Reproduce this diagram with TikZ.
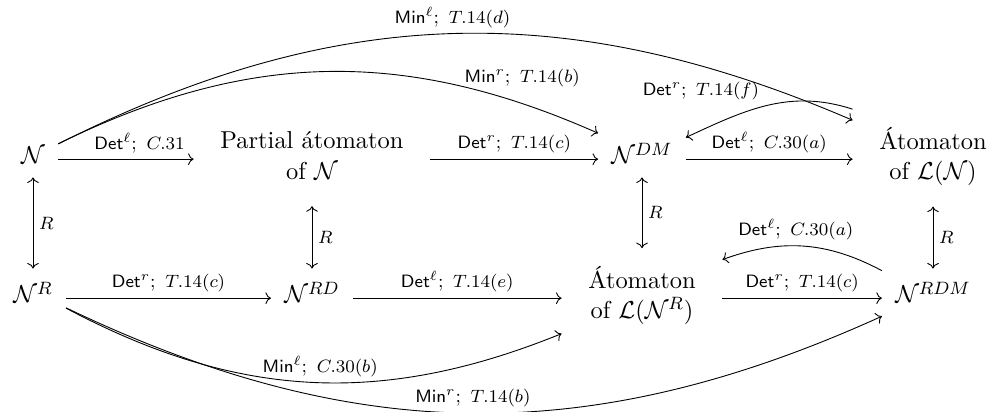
\documentclass[tikz,border=0pt]{standalone}
\usetikzlibrary{arrows.meta}
\begin{document}
\begin{tikzpicture}[x=0.4478pt,y=-0.4478pt,
  every node/.style={font=\fontsize{10.95}{13.6}\selectfont},
  obj/.style={anchor=base, inner xsep=5.8pt, inner ysep=5.8pt},
  two/.style={anchor=base, inner xsep=5.8pt, inner ysep=7.8pt},
  lab/.style={font=\fontsize{8.5}{10}\selectfont, inner sep=2.5pt},
  arr/.style={-{Computer Modern Rightarrow}, line width=0.4pt},
  dbl/.style={{Computer Modern Rightarrow}-{Computer Modern Rightarrow}, line width=0.4pt}]
\useasboundingbox (0,0) rectangle (989,412);
% row 1
\node[obj] (N) at (33,164) {$\mathcal{N}$};
\node[two] (P) at (312,164) {\begin{tabular}{c}Partial átomaton\\ of $\mathcal{N}$\end{tabular}};
\node[obj] (NDM) at (642,164) {$\mathcal{N}^{DM}$};
\node[two] (AN) at (933,164) {\begin{tabular}{c}Átomaton\\ of $\mathcal{L}(\mathcal{N})$\end{tabular}};
% row 2
\node[obj] (NR) at (33,303) {$\mathcal{N}^{R}$};
\node[obj] (NRD) at (312,303) {$\mathcal{N}^{RD}$};
\node[two] (AR) at (642,303) {\begin{tabular}{c}Átomaton\\ of $\mathcal{L}(\mathcal{N}^{R})$\end{tabular}};
\node[obj] (NRDM) at (933,303) {$\mathcal{N}^{RDM}$};
% horizontal arrows
\draw[arr] (N.mid east) -- node[lab, above, pos=0.6] {$\mathsf{Det}^{\ell}$;\,\ $C.31$} (P.mid west);
\draw[arr] (P.mid east) -- node[lab, above] {$\mathsf{Det}^{r}$;\,\ $T.14(c)$} (NDM.mid west);
\draw[arr] (NDM.mid east) -- node[lab, above] {$\mathsf{Det}^{\ell}$;\,\ $C.30(a)$} (AN.mid west);
\draw[arr] (NR.mid east) -- node[lab, above] {$\mathsf{Det}^{r}$;\,\ $T.14(c)$} (NRD.mid west);
\draw[arr] (NRD.mid east) -- node[lab, above] {$\mathsf{Det}^{\ell}$;\,\ $T.14(e)$} (AR.mid west);
\draw[arr] (AR.mid east) -- node[lab, above] {$\mathsf{Det}^{r}$;\,\ $T.14(c)$} (NRDM.mid west);
% vertical arrows
\draw[dbl] (N) -- node[lab, right] {$R$} (NR);
\draw[dbl] (P) -- node[lab, right] {$R$} (NRD);
\draw[dbl] (NDM) -- node[lab, right] {$R$} (AR);
\draw[dbl] (AN) -- node[lab, right] {$R$} (NRDM);
% curved arrows
\draw[arr] (N) to[bend left=25] node[lab, above] {$\mathsf{Min}^{\ell}$;\,\ $T.14(d)$} (AN);
\draw[arr] (N) to[bend left=25] node[lab, pos=0.76, anchor=south west, inner sep=0pt] {$\mathsf{Min}^{r}$;\,\ $T.14(b)$} (NDM);
\draw[arr] (AN.north west) to[out=162, in=25] node[lab, pos=0.52, anchor=south east] {$\mathsf{Det}^{r}$;\,\ $T.14(f)$} (NDM.20);
\draw[arr] (NRDM) to[bend right=24] node[lab, above, pos=0.55] {$\mathsf{Det}^{\ell}$;\,\ $C.30(a)$} (AR);
\draw[arr] (NR) to[bend right=25] node[lab, above, pos=0.52] {$\mathsf{Min}^{\ell}$;\,\ $C.30(b)$} (AR);
\draw[arr] (NR) to[bend right=25] node[lab, above] {$\mathsf{Min}^{r}$;\,\ $T.14(b)$} (NRDM);
\end{tikzpicture}
\end{document}
